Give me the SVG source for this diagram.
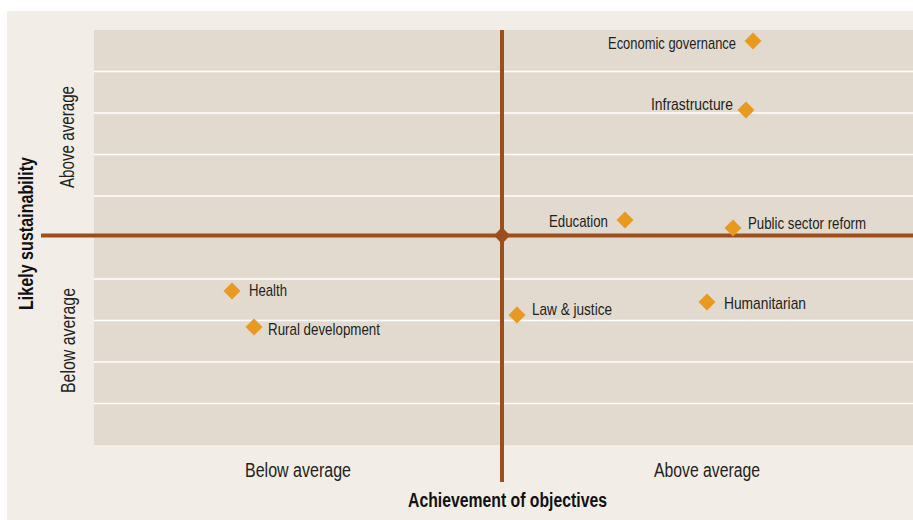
<svg xmlns="http://www.w3.org/2000/svg" width="913" height="520" viewBox="0 0 913 520">
<style>
.t{font-family:"Liberation Sans",Arial,sans-serif;font-size:17px;fill:#231f20}
.ax{font-family:"Liberation Sans",Arial,sans-serif;font-size:19.5px;fill:#231f20}
.b{font-family:"Liberation Sans",Arial,sans-serif;font-size:19.5px;font-weight:bold;fill:#111}
.g{stroke:#fff;stroke-width:1.5}
.axis{stroke:#9c4f1e;stroke-width:4;fill:none}
.d{fill:#e8991f}
</style>
<defs>
<path id="dm" d="M0,-8.5 L8.5,0 L0,8.5 L-8.5,0Z"/>
</defs>
<rect x="0" y="0" width="913" height="520" fill="#ffffff"/>
<rect x="7" y="11" width="906" height="509" fill="#f2ede6"/>
<rect x="94" y="30" width="819" height="415" fill="#e2dacf"/>
<g id="grid">
<line class="g" x1="94" x2="913" y1="71.5" y2="71.5"/>
<line class="g" x1="94" x2="913" y1="113" y2="113"/>
<line class="g" x1="94" x2="913" y1="154.5" y2="154.5"/>
<line class="g" x1="94" x2="913" y1="196" y2="196"/>
<line class="g" x1="94" x2="913" y1="279" y2="279"/>
<line class="g" x1="94" x2="913" y1="320.5" y2="320.5"/>
<line class="g" x1="94" x2="913" y1="362" y2="362"/>
<line class="g" x1="94" x2="913" y1="403.5" y2="403.5"/>
</g>
<g id="connectors">
<line class="axis" x1="41" y1="235.5" x2="913" y2="235.5"/>
<line class="axis" x1="502" y1="30" x2="502" y2="482"/>
<path d="M502,227 L510,235.5 L502,244 L494,235.5Z" fill="#9c4f1e"/>
</g>
<g id="economic-governance"><use href="#dm" class="d" x="753" y="41"/><text class="t" x="736" y="49" text-anchor="end" textLength="128" lengthAdjust="spacingAndGlyphs">Economic governance</text></g>
<g id="infrastructure"><use href="#dm" class="d" x="746" y="110"/><text class="t" x="733" y="110" text-anchor="end" textLength="82" lengthAdjust="spacingAndGlyphs">Infrastructure</text></g>
<g id="education"><use href="#dm" class="d" x="625" y="220"/><text class="t" x="608" y="226.5" text-anchor="end" textLength="59" lengthAdjust="spacingAndGlyphs">Education</text></g>
<g id="public-sector-reform"><use href="#dm" class="d" x="733" y="228"/><text class="t" x="748" y="228.5" textLength="118" lengthAdjust="spacingAndGlyphs">Public sector reform</text></g>
<g id="health"><use href="#dm" class="d" x="232" y="291"/><text class="t" x="249" y="296" textLength="38" lengthAdjust="spacingAndGlyphs">Health</text></g>
<g id="rural-development"><use href="#dm" class="d" x="254" y="327"/><text class="t" x="268" y="335" textLength="112" lengthAdjust="spacingAndGlyphs">Rural development</text></g>
<g id="law-justice"><use href="#dm" class="d" x="517" y="315"/><text class="t" x="532" y="314.5" textLength="80" lengthAdjust="spacingAndGlyphs">Law &amp; justice</text></g>
<g id="humanitarian"><use href="#dm" class="d" x="707" y="302"/><text class="t" x="724" y="309" textLength="82" lengthAdjust="spacingAndGlyphs">Humanitarian</text></g>
<g id="labels">
<text class="ax" x="245" y="477" textLength="106" lengthAdjust="spacingAndGlyphs">Below average</text>
<text class="ax" x="654" y="477" textLength="106" lengthAdjust="spacingAndGlyphs">Above average</text>
<text class="b" x="408" y="507" textLength="199" lengthAdjust="spacingAndGlyphs">Achievement of objectives</text>
<text class="b" transform="translate(33,310) rotate(-90)" textLength="153" lengthAdjust="spacingAndGlyphs">Likely sustainability</text>
<text class="ax" transform="translate(74,188) rotate(-90)" textLength="102" lengthAdjust="spacingAndGlyphs">Above average</text>
<text class="ax" transform="translate(75,393) rotate(-90)" textLength="105" lengthAdjust="spacingAndGlyphs">Below average</text>
</g>
</svg>
